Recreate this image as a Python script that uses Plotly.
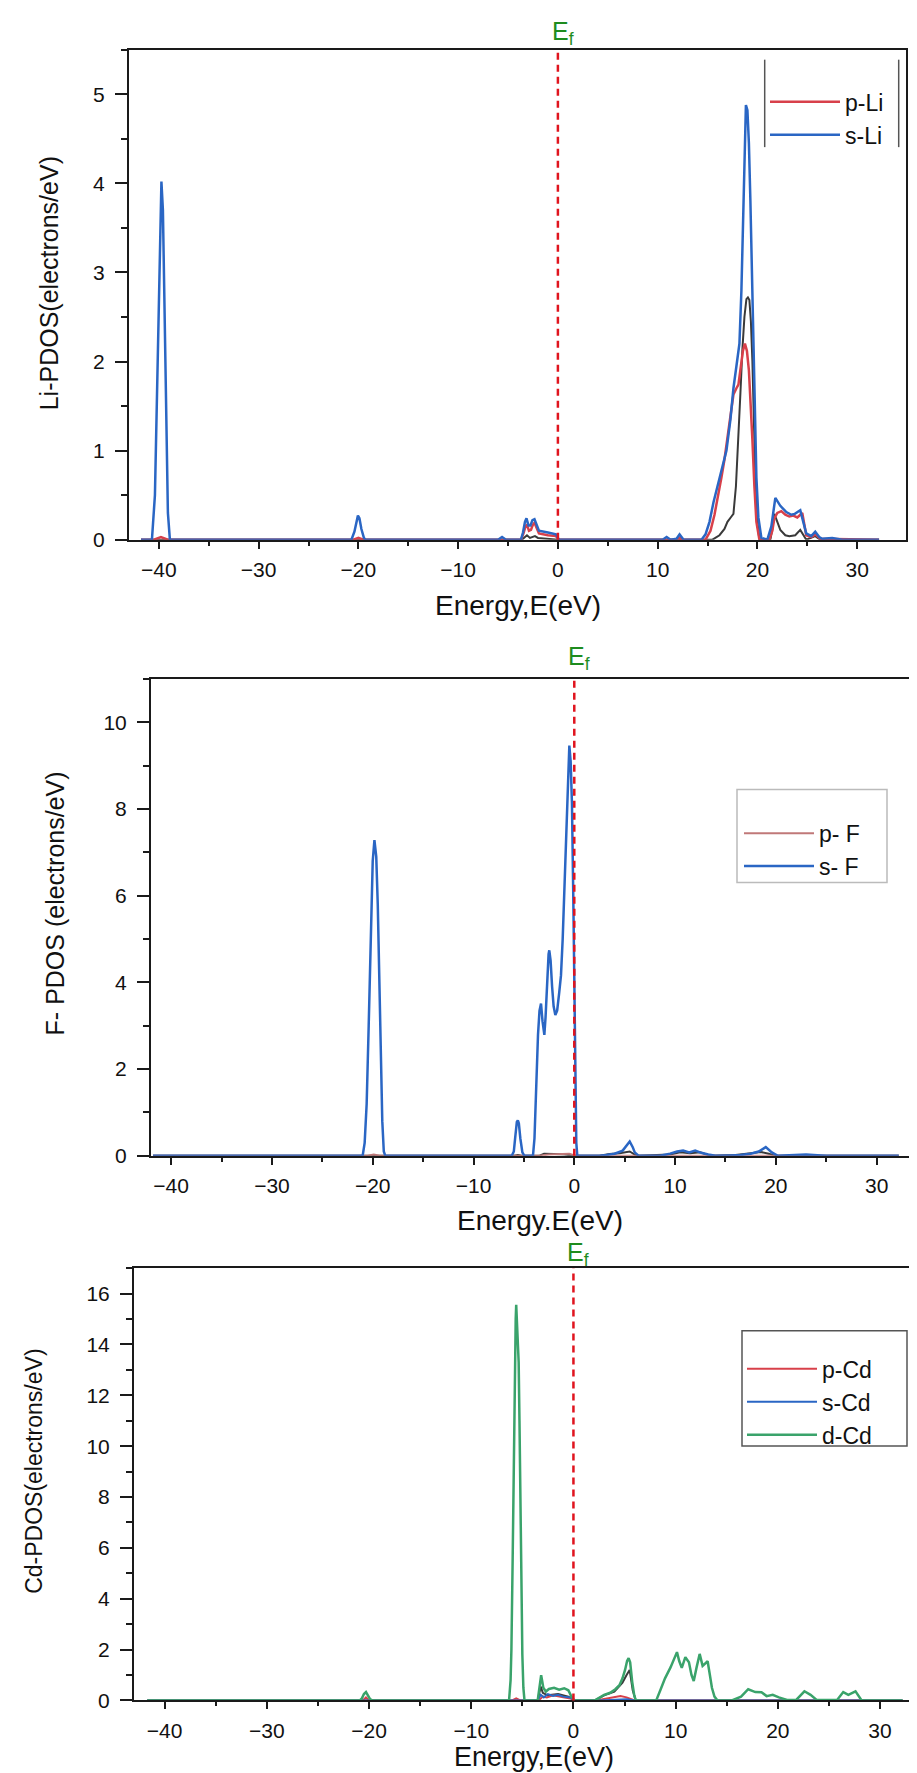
import plotly.graph_objects as go

# ---------------- data (energy eV, PDOS electrons/eV) ----------------
E_F = 0.0

LI_S = [(-41.8, 0), (-40.7, 0), (-40.4, 0.5), (-40.2, 1.6), (-40.0, 3.0), (-39.85, 3.85),
        (-39.75, 4.02), (-39.6, 3.7), (-39.45, 2.6), (-39.3, 1.3), (-39.1, 0.3), (-38.9, 0),
        (-20.7, 0), (-20.4, 0.09), (-20.2, 0.21), (-20.05, 0.27), (-19.9, 0.24), (-19.7, 0.12),
        (-19.45, 0.02), (-19.3, 0), (-6.0, 0), (-5.6, 0.03), (-5.2, 0), (-3.7, 0), (-3.5, 0.08),
        (-3.3, 0.2), (-3.15, 0.24), (-2.95, 0.16), (-2.75, 0.16), (-2.55, 0.22), (-2.35, 0.23),
        (-2.15, 0.16), (-1.9, 0.1), (-1.0, 0.08), (-0.2, 0.06), (0.1, 0), (10.5, 0), (10.9, 0.03),
        (11.3, 0), (11.9, 0.01), (12.2, 0.06), (12.6, 0), (14.4, 0), (14.8, 0.06), (15.2, 0.2),
        (15.6, 0.42), (16.0, 0.6), (16.4, 0.75), (16.9, 1.0), (17.3, 1.35), (17.6, 1.7),
        (17.9, 1.95), (18.2, 2.2), (18.4, 2.8), (18.55, 3.6), (18.7, 4.4), (18.85, 4.88),
        (19.0, 4.82), (19.15, 4.45), (19.3, 3.8), (19.45, 3.0), (19.6, 2.3), (19.75, 1.4),
        (19.9, 0.7), (20.1, 0.25), (20.4, 0.02), (21.0, 0), (21.4, 0.15), (21.8, 0.47),
        (22.3, 0.38), (22.9, 0.31), (23.4, 0.28), (23.75, 0.29), (24.3, 0.33), (24.6, 0.2),
        (24.9, 0.07), (25.4, 0.04), (25.8, 0.09), (26.2, 0.03), (26.5, 0.01), (27.5, 0.02),
        (28.5, 0), (32.2, 0)]

LI_P = [(-41.8, 0), (-40.5, 0), (-39.8, 0.03), (-39.1, 0), (-20.5, 0), (-20.0, 0.02), (-19.5, 0),
        (-3.7, 0), (-3.45, 0.07), (-3.25, 0.15), (-3.1, 0.17), (-2.9, 0.1), (-2.7, 0.11),
        (-2.5, 0.17), (-2.35, 0.19), (-2.15, 0.13), (-1.9, 0.07), (-1.0, 0.05), (-0.2, 0.04),
        (0.1, 0), (12.0, 0), (12.2, 0.02), (12.5, 0), (14.8, 0), (15.3, 0.1), (15.7, 0.28),
        (16.0, 0.45), (16.4, 0.7), (16.7, 0.9), (17.0, 1.15), (17.3, 1.42), (17.6, 1.63),
        (17.9, 1.7), (18.1, 1.74), (18.35, 1.95), (18.55, 2.12), (18.75, 2.2), (18.95, 2.12),
        (19.15, 1.9), (19.35, 1.5), (19.5, 1.12), (19.7, 0.6), (19.9, 0.2), (20.2, 0), (21.2, 0),
        (21.5, 0.1), (21.7, 0.24), (22.0, 0.3), (22.4, 0.32), (22.8, 0.28), (23.2, 0.26),
        (23.6, 0.27), (24.0, 0.25), (24.5, 0.3), (24.9, 0.05), (25.4, 0.03), (25.8, 0.06),
        (26.3, 0.01), (32.2, 0)]

LI_TOT = [(-41.8, 0), (-3.6, 0), (-3.3, 0.03), (-3.1, 0.05), (-2.8, 0.02), (-2.3, 0.04), (-2.0, 0.02),
          (-1.0, 0.01), (0.0, 0), (15.5, 0), (16.2, 0.05), (16.7, 0.12), (17.0, 0.2), (17.4, 0.26),
          (17.6, 0.29), (17.85, 0.6), (18.1, 1.12), (18.3, 1.65), (18.5, 2.14), (18.7, 2.5),
          (18.9, 2.7), (19.05, 2.72), (19.2, 2.69), (19.35, 2.45), (19.5, 2.0), (19.65, 1.3),
          (19.8, 0.68), (20.0, 0.2), (20.2, 0), (21.3, 0), (21.5, 0.12), (21.7, 0.29), (22.0, 0.2),
          (22.3, 0.11), (22.8, 0.05), (23.2, 0.04), (23.8, 0.05), (24.3, 0.11), (24.9, 0.0),
          (25.8, 0.04), (26.3, 0), (32.2, 0)]

F_S = [(-41.8, 0), (-21.0, 0), (-20.8, 0.3), (-20.6, 1.2), (-20.4, 3.0), (-20.2, 5.2), (-20.0, 6.8),
       (-19.83, 7.28), (-19.65, 6.9), (-19.5, 5.8), (-19.35, 4.0), (-19.2, 2.2), (-19.05, 0.8),
       (-18.9, 0.1), (-18.75, 0), (-6.2, 0), (-6.0, 0.1), (-5.85, 0.45), (-5.7, 0.78), (-5.6, 0.82),
       (-5.5, 0.75), (-5.35, 0.4), (-5.15, 0.08), (-4.95, 0), (-4.1, 0), (-3.95, 0.4), (-3.85, 1.26),
       (-3.7, 2.2), (-3.6, 2.79), (-3.45, 3.35), (-3.3, 3.51), (-3.15, 3.1), (-2.97, 2.79),
       (-2.85, 3.2), (-2.7, 4.1), (-2.55, 4.65), (-2.48, 4.74), (-2.35, 4.5), (-2.2, 3.9),
       (-2.05, 3.45), (-1.88, 3.25), (-1.7, 3.35), (-1.5, 3.75), (-1.32, 4.16), (-1.15, 5.0),
       (-1.0, 6.0), (-0.82, 7.37), (-0.65, 8.7), (-0.49, 9.46), (-0.36, 9.1), (-0.23, 8.12),
       (-0.1, 6.0), (0.0, 3.55), (0.1, 1.5), (0.2, 0.3), (0.3, 0), (2.5, 0), (3.2, 0.02),
       (4.0, 0.05), (4.8, 0.12), (5.2, 0.25), (5.5, 0.33), (5.8, 0.2), (6.0, 0.08), (6.4, 0),
       (8.5, 0), (9.5, 0.05), (10.2, 0.1), (10.8, 0.12), (11.4, 0.08), (12.0, 0.12), (12.6, 0.07),
       (13.3, 0.03), (14.0, 0), (15.5, 0.01), (16.5, 0.02), (17.5, 0.05), (18.3, 0.1), (19.0, 0.2),
       (19.6, 0.08), (20.2, 0), (22.0, 0.02), (23.0, 0.03), (24.5, 0.01), (25.0, 0), (32.2, 0)]

F_P = [(-41.8, 0), (-20.5, 0), (-19.9, 0.03), (-19.3, 0), (-3.5, 0), (-2.5, 0.03), (-0.5, 0.05),
       (0.2, 0), (32.2, 0)]

F_TOT = [(-41.8, 0), (-6.0, 0), (-5.6, 0.02), (-5.2, 0), (-3.5, 0), (-3.0, 0.05), (-2.0, 0.04),
         (-1.0, 0.03), (0.1, 0), (2.5, 0), (3.5, 0.04), (4.5, 0.06), (5.5, 0.1), (6.2, 0), (9.5, 0.03),
         (10.5, 0.08), (11.5, 0.06), (12.5, 0.08), (13.5, 0), (16.0, 0.02), (17.5, 0.06),
         (18.5, 0.09), (19.3, 0.05), (20.0, 0), (32.2, 0)]

CD_D = [(-41.7, 0), (-20.9, 0), (-20.7, 0.08), (-20.5, 0.25), (-20.3, 0.33), (-20.1, 0.2),
        (-19.9, 0.05), (-19.7, 0), (-6.3, 0), (-6.15, 0.8), (-6.07, 2.0), (-5.95, 5.5), (-5.88, 8.4),
        (-5.75, 12.5), (-5.65, 15.0), (-5.6, 15.56), (-5.52, 14.8), (-5.45, 13.6), (-5.36, 13.3),
        (-5.28, 11.0), (-5.2, 7.5), (-5.13, 4.8), (-5.0, 1.8), (-4.9, 0.5), (-4.79, 0), (-3.5, 0),
        (-3.3, 0.6), (-3.16, 0.99), (-3.05, 0.75), (-2.95, 0.5), (-2.7, 0.35), (-2.4, 0.45),
        (-1.9, 0.5), (-1.4, 0.42), (-0.9, 0.48), (-0.5, 0.4), (-0.2, 0.15), (0.1, 0), (2.1, 0),
        (3.0, 0.22), (3.6, 0.3), (4.1, 0.44), (4.5, 0.6), (4.8, 0.87), (5.05, 1.2), (5.25, 1.55),
        (5.4, 1.66), (5.55, 1.5), (5.75, 0.73), (5.95, 0.2), (6.1, 0), (8.1, 0), (8.5, 0.4),
        (8.96, 0.87), (9.5, 1.3), (9.85, 1.6), (10.13, 1.9), (10.35, 1.55), (10.6, 1.28),
        (10.95, 1.7), (11.3, 1.5), (11.55, 1.0), (11.77, 0.76), (12.05, 1.3), (12.35, 1.83),
        (12.64, 1.36), (13.13, 1.54), (13.35, 1.0), (13.55, 0.5), (13.8, 0.15), (14.1, 0), (15.5, 0),
        (16.4, 0.15), (17.1, 0.44), (17.8, 0.33), (18.4, 0.32), (18.9, 0.17), (19.5, 0.22),
        (20.1, 0.12), (20.9, 0.02), (21.8, 0.02), (22.6, 0.36), (23.2, 0.22), (23.8, 0.02),
        (25.8, 0.02), (26.4, 0.33), (26.9, 0.22), (27.6, 0.36), (28.2, 0), (32.2, 0)]

CD_S = [(-41.7, 0), (-3.5, 0), (-3.2, 0.22), (-2.9, 0.12), (-2.5, 0.25), (-2.0, 0.18), (-1.5, 0.22),
        (-1.0, 0.15), (-0.3, 0.12), (0.1, 0), (2.5, 0), (4.0, 0.02), (5.2, 0.05), (6.0, 0), (32.2, 0)]

CD_P = [(-41.7, 0), (-20.6, 0), (-20.3, 0.12), (-20.0, 0), (-6.0, 0), (-5.6, 0.08), (-5.2, 0),
        (-3.4, 0), (-3.0, 0.15), (-2.6, 0.12), (-2.0, 0.2), (-1.5, 0.15), (-1.0, 0.12), (-0.3, 0.08),
        (0.1, 0), (2.2, 0), (3.0, 0.05), (4.0, 0.12), (4.6, 0.17), (5.2, 0.12), (5.8, 0.03),
        (6.3, 0), (32.2, 0)]

CD_TOT = [(-41.7, 0), (-3.5, 0), (-3.2, 0.55), (-3.0, 0.3), (-2.5, 0.2), (-1.5, 0.25), (-0.5, 0.15),
          (0.1, 0), (2.1, 0), (3.0, 0.2), (4.0, 0.35), (4.8, 0.7), (5.2, 1.0), (5.5, 1.2),
          (5.8, 0.4), (6.1, 0), (32.2, 0)]

# ---------------- styling ----------------
W, H = 917, 1773
FONT = "Liberation Sans, Arial, sans-serif"
BLUE = "#2a66c4"
RED = "#d8404a"
DARK = "#3a3a3a"
GREEN = "#3aa36b"
EF_RED = "#e0141e"
EF_GREEN = "#1e8c1e"
AX = "#1a1a1a"


def fx(p):
    return p / W


def fy(p):
    return 1 - p / H


fig = go.Figure()


def add(data, name, color, xa, ya, legend, show=True, width=2.5):
    fig.add_trace(go.Scatter(
        x=[d[0] for d in data], y=[d[1] for d in data], mode="lines", name=name,
        line=dict(color=color, width=width),
        xaxis=xa, yaxis=ya, legend=legend, showlegend=show))


add(LI_TOT, "total", DARK, "x", "y", "legend", show=False, width=2)
add(LI_P, "p-Li", RED, "x", "y", "legend")
add(LI_S, "s-Li", BLUE, "x", "y", "legend")

add(F_TOT, "total", DARK, "x2", "y2", "legend2", show=False, width=2)
add(F_P, "p- F", "#c07878", "x2", "y2", "legend2", width=2)
add(F_S, "s- F", BLUE, "x2", "y2", "legend2")

add(CD_TOT, "total", DARK, "x3", "y3", "legend3", show=False, width=2)
add(CD_P, "p-Cd", RED, "x3", "y3", "legend3", width=2)
add(CD_S, "s-Cd", BLUE, "x3", "y3", "legend3", width=2)
add(CD_D, "d-Cd", GREEN, "x3", "y3", "legend3")

panels = [
    # (suffix, left, right, top, bottom, xrange, yrange, ydtick, yminor, mirror_y)
    ("", 121, 898, 42, 535, [-43.0, 34.9], [0, 5.5], 1, 0.5, True),
    ("2", 143, 917, 675, 1155, [-42.0, 34.8], [0, 11], 2, 1, False),
    ("3", 126, 917, 1268, 1703, [-43.0, 34.4], [0, 17], 2, 1, False),
]

tickfont = dict(family=FONT, size=21, color="#111")
for suf, l, r, t, b, xr, yr, ydt, ymin, mir in panels:
    fig.layout["xaxis" + suf] = dict(
        domain=[fx(l), fx(r)], range=xr, anchor="y" + suf, dtick=10, tick0=0,
        ticks="outside", ticklen=7, tickwidth=2, tickcolor=AX,
        showline=True, linewidth=2, linecolor=AX, mirror=True,
        showgrid=False, zeroline=False, tickfont=tickfont, ticklabelstandoff=3,
        minor=dict(dtick=5, tick0=0, ticks="outside", ticklen=4, tickwidth=1.5, tickcolor=AX))
    fig.layout["yaxis" + suf] = dict(
        domain=[fy(b), fy(t)], range=yr, anchor="x" + suf, dtick=ydt, tick0=0,
        ticks="outside", ticklen=12, tickwidth=2, tickcolor=AX,
        showline=True, linewidth=2, linecolor=AX, mirror=mir,
        showgrid=False, zeroline=False, tickfont=tickfont, ticklabelstandoff=6,
        minor=dict(dtick=ymin, tick0=0, ticks="outside", ticklen=6, tickwidth=1.5, tickcolor=AX))
    # Fermi level dashed line
    fig.add_shape(type="line", xref="x" + suf, yref="y" + suf + " domain",
                  x0=E_F, x1=E_F, y0=0, y1=1,
                  line=dict(color=EF_RED, width=2.5, dash="7px,5px"))

# Fermi labels
for suf, ypix in [("", 25), ("2", 654), ("3", 1254)]:
    fig.add_annotation(text="E<sub>f</sub>", xref="x" + suf, x=E_F, yref="paper", y=fy(ypix),
                       xanchor="left", yanchor="middle", xshift=-8, showarrow=False,
                       font=dict(family=FONT, size=25, color=EF_GREEN))

# axis titles
for text, xpix, ypix, size in [("Energy,E(eV)", 510, 601, 28),
                               ("Energy.E(eV)", 532, 1220, 28),
                               ("Energy,E(eV)", 526, 1760, 27)]:
    fig.add_annotation(text=text, xref="paper", yref="paper", x=fx(xpix), y=fy(ypix),
                       xanchor="center", yanchor="middle", showarrow=False,
                       font=dict(family=FONT, size=size, color="#111"))

for text, xpix, ypix, size in [("Li-PDOS(electrons/eV)", 41, 277, 25),
                               ("F- PDOS (electrons/eV)", 47, 901, 25),
                               ("Cd-PDOS(electrons/eV)", 26, 1473, 23)]:
    fig.add_annotation(text=text, xref="paper", yref="paper", x=fx(xpix), y=fy(ypix),
                       xanchor="center", yanchor="middle", textangle=-90, showarrow=False,
                       font=dict(family=FONT, size=size, color="#111"))

# legend frames: legend 1 has only vertical side lines, 2 and 3 full boxes
for xpix in (756.7, 890.7):
    fig.add_shape(type="line", xref="paper", yref="paper", x0=fx(xpix), x1=fx(xpix),
                  y0=fy(52), y1=fy(140), line=dict(color="#555", width=1.5))
fig.add_shape(type="rect", xref="paper", yref="paper", x0=fx(729), x1=fx(879),
              y0=fy(880), y1=fy(786.5), line=dict(color="#bbbbbb", width=1.5), fillcolor="white",
              layer="above")
fig.add_shape(type="rect", xref="paper", yref="paper", x0=fx(734), x1=fx(899),
              y0=fy(1447), y1=fy(1331), line=dict(color="#555555", width=1.5), fillcolor="white",
              layer="above")

legfont = dict(family=FONT, size=23, color="#111")
common = dict(xanchor="left", yanchor="middle", font=legfont, bgcolor="rgba(0,0,0,0)",
              borderwidth=0, itemwidth=70, tracegroupgap=0)
fig.update_layout(
    width=W, height=H, margin=dict(l=0, r=0, t=0, b=0),
    paper_bgcolor="white", plot_bgcolor="white",
    legend=dict(x=fx(757), y=fy(111), **common),
    legend2=dict(x=fx(731), y=fy(847), **common),
    legend3=dict(x=fx(734), y=fy(1402.6), **common),
)

fig.write_html("out.html")
